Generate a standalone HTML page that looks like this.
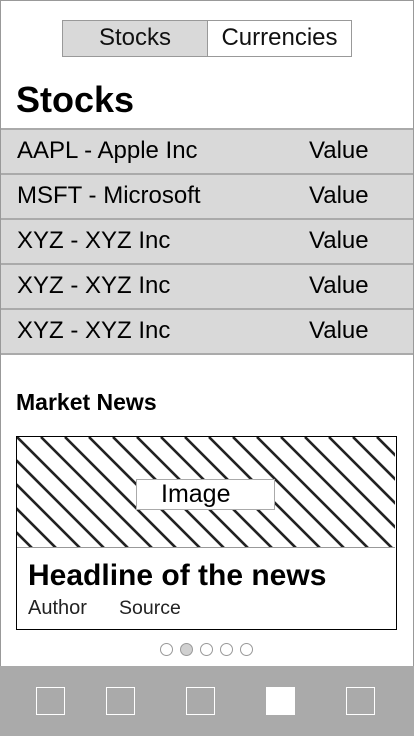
<!DOCTYPE html>
<html><head><meta charset="utf-8"><style>
*{box-sizing:border-box;margin:0;padding:0}
body{width:414px;height:736px;position:relative;background:#fff;font-family:"Liberation Sans",sans-serif;overflow:hidden}
.frame{position:absolute;left:0;top:0;width:414px;height:736px;border:1px solid #999}
.seg{position:absolute;top:20px;height:37px;border:1px solid #999;font-size:24px;text-align:center;line-height:33px;color:#111}
.row{position:absolute;left:1px;width:412px;height:45px;background:#d9d9d9;border-bottom:2px solid #aaa;font-size:24px;color:#000;line-height:41px}
.row .n{position:absolute;left:16px}
.row .v{position:absolute;left:308px}
.abs{position:absolute}
.dot{position:absolute;top:643px;width:13px;height:13px;border-radius:50%;border:1px solid #999;background:#fff}
.tab{position:absolute;top:687px;width:29px;height:28px;border:1px solid #fff}
</style></head><body>
<div class="frame"></div>
<div class="seg" style="left:62px;width:146px;background:#d9d9d9">Stocks</div>
<div class="seg" style="left:207px;width:145px;background:#fff">Currencies</div>
<div class="abs" style="left:16px;top:79px;font-size:36px;font-weight:bold">Stocks</div>
<div class="abs" style="left:1px;top:128px;width:412px;height:2px;background:#aaa"></div>
<div class="row" style="top:130px"><span class="n">AAPL - Apple Inc</span><span class="v">Value</span></div>
<div class="row" style="top:175px"><span class="n">MSFT - Microsoft</span><span class="v">Value</span></div>
<div class="row" style="top:220px"><span class="n">XYZ - XYZ Inc</span><span class="v">Value</span></div>
<div class="row" style="top:265px"><span class="n">XYZ - XYZ Inc</span><span class="v">Value</span></div>
<div class="row" style="top:310px"><span class="n">XYZ - XYZ Inc</span><span class="v">Value</span></div>
<div class="abs" style="left:16px;top:389px;font-size:23px;font-weight:bold">Market News</div>
<div class="abs" style="left:16px;top:436px;width:381px;height:194px;border:1.5px solid #000">
<svg class="abs" style="left:0;top:0" width="378" height="111">
<g stroke="#222" stroke-width="2.6">
<line x1="-120" y1="0" x2="0" y2="120"/><line x1="-96" y1="0" x2="24" y2="120"/><line x1="-72" y1="0" x2="48" y2="120"/><line x1="-48" y1="0" x2="72" y2="120"/><line x1="-24" y1="0" x2="96" y2="120"/><line x1="0" y1="0" x2="120" y2="120"/><line x1="24" y1="0" x2="144" y2="120"/><line x1="48" y1="0" x2="168" y2="120"/><line x1="72" y1="0" x2="192" y2="120"/><line x1="96" y1="0" x2="216" y2="120"/><line x1="120" y1="0" x2="240" y2="120"/><line x1="144" y1="0" x2="264" y2="120"/><line x1="168" y1="0" x2="288" y2="120"/><line x1="192" y1="0" x2="312" y2="120"/><line x1="216" y1="0" x2="336" y2="120"/><line x1="240" y1="0" x2="360" y2="120"/><line x1="264" y1="0" x2="384" y2="120"/><line x1="288" y1="0" x2="408" y2="120"/><line x1="312" y1="0" x2="432" y2="120"/><line x1="336" y1="0" x2="456" y2="120"/><line x1="360" y1="0" x2="480" y2="120"/>
</g>
<line x1="0" y1="110.5" x2="378" y2="110.5" stroke="#999" stroke-width="1"/>
</svg>
<div class="abs" style="left:119px;top:42px;width:139px;height:31px;background:#fff;border:1px solid #aaa;font-size:25px;line-height:28px;padding-left:24px">Image</div>
<div class="abs" style="left:11px;top:122px;font-size:30px;font-weight:bold">Headline of the news</div>
<div class="abs" style="left:11px;top:160px;font-size:20px;color:#222">Author</div>
<div class="abs" style="left:102px;top:160px;font-size:19.5px;color:#222">Source</div>
</div>
<div class="dot" style="left:160px"></div>
<div class="dot" style="left:180px;background:#d0d0d0"></div>
<div class="dot" style="left:200px"></div>
<div class="dot" style="left:220px"></div>
<div class="dot" style="left:240px"></div>
<div class="abs" style="left:0;top:666px;width:414px;height:70px;background:#aaa"></div>
<div class="tab" style="left:36px"></div>
<div class="tab" style="left:106px"></div>
<div class="tab" style="left:186px"></div>
<div class="tab" style="left:266px;background:#fff"></div>
<div class="tab" style="left:346px"></div>
</body></html>
